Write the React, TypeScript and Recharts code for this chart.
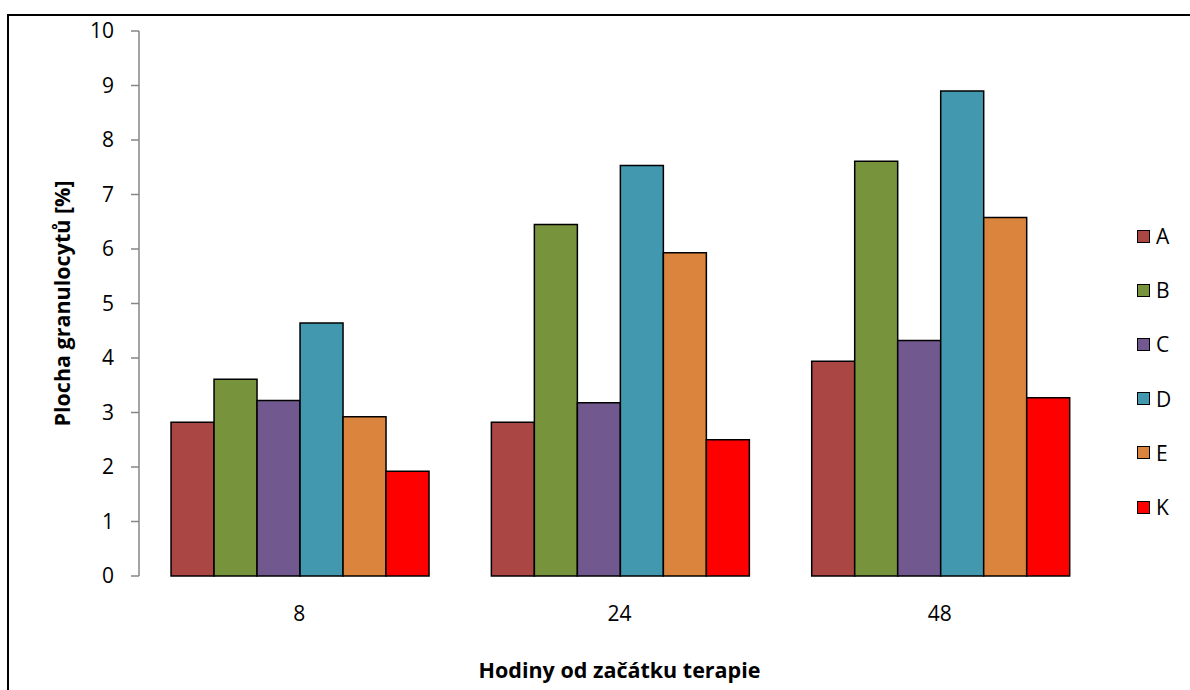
import React from 'react';
import { BarChart, Bar, XAxis, YAxis, Legend } from 'recharts';

// hours since start of therapy
const categories = ['8', '24', '48'];

const seriesNames = ['A', 'B', 'C', 'D', 'E', 'K'];
const seriesColors = ['#AA4643', '#77933C', '#71588F', '#4198AF', '#DB843D', '#FF0000'];

const valuesA = [2.82, 2.82, 3.94];
const valuesB = [3.61, 6.45, 7.61];
const valuesC = [3.22, 3.18, 4.32];
const valuesD = [4.64, 7.53, 8.9];
const valuesE = [2.92, 5.93, 6.58];
const valuesK = [1.92, 2.5, 3.27];

const yTicks = [0, 1, 2, 3, 4, 5, 6, 7, 8, 9, 10];
const boundaryTicks = [0, 1, 2, 3];

const seriesValues = [valuesA, valuesB, valuesC, valuesD, valuesE, valuesK];

const chartData = categories.map((c, i) => {
    const row: Record<string, string | number> = { hours: c };
    seriesNames.forEach((name, s) => {
        row[name] = seriesValues[s][i];
    });
    return row;
});

const font = '"Open Sans", Lato, sans-serif';
const axisGray = '#868686';

function LegendBox() {
    return (
        <div style={{ width: 60, fontFamily: font, fontSize: 21, color: '#000' }}>
            {seriesNames.map((name, i) => (
                <div key={name} style={{ height: 54.2, display: 'flex', alignItems: 'center' }}>
                    <span
                        style={{
                            display: 'inline-block',
                            width: 11,
                            height: 11,
                            background: seriesColors[i],
                            border: '1.5px solid #000',
                            marginRight: 6,
                        }}
                    />
                    <span>{name}</span>
                </div>
            ))}
        </div>
    );
}

function YTitle(props: any) {
    const { x, y, width, height } = props.viewBox;
    const cx = x + width / 2 - 8;
    const cy = y + height / 2;
    return (
        <text
            x={cx}
            y={cy}
            transform={`rotate(-90 ${cx} ${cy})`}
            textAnchor="middle"
            dominantBaseline="central"
            fontFamily={font}
            fontWeight="bold"
            fontSize={21.5}
            fill="#000"
        >
            Plocha granulocytů [%]
        </text>
    );
}

export default function App() {
    return (
        <div style={{ position: 'absolute', left: 0, top: 0, width: 1190, height: 690, overflow: 'hidden', background: '#fff' }}>
            <div
                style={{
                    position: 'absolute',
                    left: 7,
                    top: 14,
                    width: 1300,
                    height: 800,
                    border: '2px solid #000',
                }}
            />
            <div style={{ position: 'absolute', left: 0, top: 0 }}>
                <BarChart
                    width={1190}
                    height={690}
                    data={chartData}
                    margin={{ top: 31, right: 30, left: 0, bottom: 0 }}
                    barCategoryGap="10%"
                    barGap={0}
                >
                    <XAxis
                        xAxisId="bounds"
                        type="number"
                        domain={[0, 3]}
                        ticks={boundaryTicks}
                        allowDataOverflow
                        height={0}
                        tick={false}
                        tickSize={8}
                        axisLine={{ stroke: axisGray, strokeWidth: 1.5 }}
                        tickLine={{ stroke: axisGray, strokeWidth: 1.5 }}
                    />
                    <XAxis
                        dataKey="hours"
                        height={114}
                        axisLine={false}
                        tickLine={false}
                        tickSize={0}
                        tickMargin={30}
                        tick={{ fill: '#000', fontSize: 21, fontFamily: font }}
                        label={{
                            value: 'Hodiny od začátku terapie',
                            position: 'insideBottom',
                            offset: 12,
                            style: { fill: '#000', fontSize: 21.5, fontWeight: 'bold', fontFamily: font },
                        }}
                    />
                    <YAxis
                        width={139}
                        domain={[0, 10]}
                        ticks={yTicks}
                        interval={0}
                        tickSize={8}
                        tickMargin={17}
                        axisLine={{ stroke: axisGray, strokeWidth: 1.5 }}
                        tickLine={{ stroke: axisGray, strokeWidth: 1.5 }}
                        tick={{ fill: '#000', fontSize: 21, fontFamily: font }}
                        label={{ content: YTitle }}
                    />
                    <Legend
                        layout="vertical"
                        align="right"
                        verticalAlign="middle"
                        content={() => <LegendBox />}
                        wrapperStyle={{ left: 1137, top: 209, width: 60 }}
                    />
                    {seriesNames.map((name, i) => (
                        <Bar
                            key={name}
                            dataKey={name}
                            fill={seriesColors[i]}
                            stroke="#000"
                            strokeWidth={1.5}
                            isAnimationActive={false}
                        />
                    ))}
                </BarChart>
            </div>
        </div>
    );
}
